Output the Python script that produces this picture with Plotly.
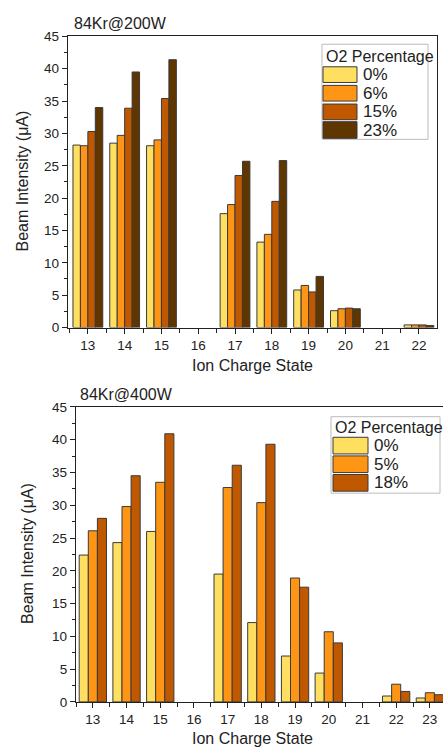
import plotly.graph_objects as go
from plotly.subplots import make_subplots

W, H = 443, 755

# ---- data ----
charge_top = [13, 14, 15, 16, 17, 18, 19, 20, 21, 22]
pct_top = ["0%", "6%", "15%", "23%"]
top_0 = [28.2, 28.5, 28.1, None, 17.6, 13.2, 5.8, 2.6, None, 0.4]
top_6 = [28.1, 29.7, 29.0, None, 19.0, 14.4, 6.5, 2.9, None, 0.4]
top_15 = [30.3, 33.9, 35.4, None, 23.5, 19.5, 5.5, 3.0, None, 0.4]
top_23 = [34.0, 39.5, 41.4, None, 25.7, 25.8, 7.9, 2.9, None, 0.3]

charge_bot = [13, 14, 15, 16, 17, 18, 19, 20, 21, 22, 23]
pct_bot = ["0%", "5%", "18%"]
bot_0 = [22.4, 24.3, 26.0, None, 19.5, 12.1, 7.0, 4.4, None, 0.9, 0.6]
bot_5 = [26.1, 29.8, 33.5, None, 32.7, 30.4, 18.9, 10.7, None, 2.7, 1.4]
bot_18 = [28.0, 34.5, 40.9, None, 36.1, 39.3, 17.5, 9.0, None, 1.6, 1.1]

colors_top = ["#FFDF5F", "#FF9515", "#C05800", "#5F3500"]
colors_bot = ["#FFDF5F", "#FF9515", "#C05800"]

FONT = "Arial, Liberation Sans, sans-serif"
EDGE = "#3a3a3a"


def px(x):
    return x / W


def py(y):
    return 1 - y / H


fig = make_subplots(rows=2, cols=1)

for vals, name, col in zip([top_0, top_6, top_15, top_23], pct_top, colors_top):
    fig.add_trace(go.Bar(x=charge_top, y=vals, name=name, marker_color=col,
                         marker_line=dict(color=EDGE, width=1), showlegend=False),
                  row=1, col=1)
for vals, name, col in zip([bot_0, bot_5, bot_18], pct_bot, colors_bot):
    fig.add_trace(go.Bar(x=charge_bot, y=vals, name=name, marker_color=col,
                         marker_line=dict(color=EDGE, width=1), showlegend=False),
                  row=2, col=1)

axis_common = dict(showline=True, linecolor="#222", linewidth=1.3, ticks="outside",
                   tickcolor="#222", ticklen=5, tickwidth=1.2, showgrid=False,
                   zeroline=False, tickfont=dict(family=FONT, size=13.5, color="#222"))

fig.update_layout(
    width=W, height=H, margin=dict(l=0, r=0, t=0, b=0),
    plot_bgcolor="white", paper_bgcolor="white",
    barmode="group", bargap=0.19, bargroupgap=0,
    font=dict(family=FONT, color="#222"),
    xaxis=dict(domain=[px(68), px(437)], range=[12.46, 22.49], tickvals=charge_top,
               mirror=True, minor=dict(tick0=12.5, dtick=1, ticks="outside", ticklen=4,
                                       tickcolor="#222"),
               **axis_common),
    yaxis=dict(domain=[py(327), py(30)], range=[0, 45], dtick=5, mirror=True,
               minor=dict(dtick=2.5, ticks="outside", ticklen=3, tickcolor="#222"),
               **axis_common),
    xaxis2=dict(domain=[px(76), 1], range=[12.5, 23.39], tickvals=charge_bot,
                mirror=True, minor=dict(tick0=12.5, dtick=1, ticks="outside", ticklen=4,
                                        tickcolor="#222"),
                **axis_common),
    yaxis2=dict(domain=[py(709), py(408)], range=[0, 45], dtick=5, mirror=False,
                minor=dict(dtick=2.5, ticks="outside", ticklen=3, tickcolor="#222"),
                **axis_common),
)

annotations = []
shapes = []

# titles
annotations.append(dict(text="84Kr@200W", x=px(72), y=py(17), xref="paper", yref="paper",
                        xanchor="left", yanchor="middle", showarrow=False,
                        font=dict(family=FONT, size=16, color="#222")))
annotations.append(dict(text="84Kr@400W", x=px(78), y=py(395), xref="paper", yref="paper",
                        xanchor="left", yanchor="middle", showarrow=False,
                        font=dict(family=FONT, size=16, color="#222")))
# axis titles
for (xc, yc) in [(22, 178), (28, 558)]:
    annotations.append(dict(text="Beam Intensity (μA)", x=px(xc), y=py(yc), xref="paper",
                            yref="paper", textangle=-90, showarrow=False,
                            xanchor="center", yanchor="middle",
                            font=dict(family=FONT, size=16, color="#222")))
for (xc, yc) in [(252, 366), (252, 746)]:
    annotations.append(dict(text="Ion Charge State", x=px(xc), y=py(yc), xref="paper",
                            yref="paper", showarrow=False, xanchor="center", yanchor="middle",
                            font=dict(family=FONT, size=16, color="#222")))


def legend(box, title_y, sw_x, rows_y, labels, cols, label_x):
    x0, y0, x1, y1 = box
    shapes.append(dict(type="rect", xref="paper", yref="paper", x0=px(x0), x1=px(x1),
                       y0=py(y1), y1=py(y0), line=dict(color="#bbbbbb", width=1),
                       fillcolor="white", layer="above"))
    annotations.append(dict(text="O2 Percentage", x=px(x0 + 2), y=py(title_y), xref="paper",
                            yref="paper", xanchor="left", yanchor="middle", showarrow=False,
                            font=dict(family=FONT, size=16, color="#222")))
    for (ya, yb), lab, c in zip(rows_y, labels, cols):
        shapes.append(dict(type="rect", xref="paper", yref="paper", x0=px(sw_x[0]),
                           x1=px(sw_x[1]), y0=py(yb), y1=py(ya), fillcolor=c,
                           line=dict(color=EDGE, width=1), layer="above"))
        annotations.append(dict(text=lab, x=px(label_x), y=py((ya + yb) / 2), xref="paper",
                                yref="paper", xanchor="left", yanchor="middle",
                                showarrow=False,
                                font=dict(family=FONT, size=17, color="#222")))


legend((322, 38, 428, 135), 50, (323, 357),
       [(61, 77), (80, 96), (99, 115), (117, 134)], pct_top, colors_top, 361)
legend((331, 418, 440, 496), 429, (333, 368),
       [(439, 456), (458, 475), (477, 494)], pct_bot, colors_bot, 372)

fig.update_layout(annotations=annotations, shapes=shapes)
fig.write_html("out.html")
